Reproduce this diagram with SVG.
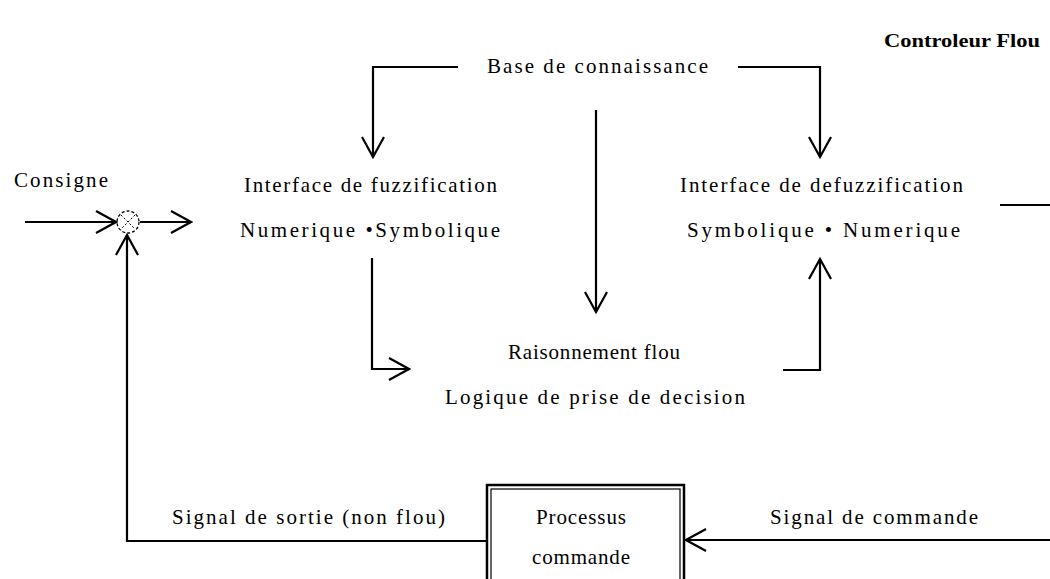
<svg xmlns="http://www.w3.org/2000/svg" width="1050" height="579" viewBox="0 0 1050 579">
  <style>
    .t { font-family: "Liberation Serif", "Times New Roman", serif; font-size: 21px; fill: #000; }
    .title { font-family: "Liberation Serif", "Times New Roman", serif; font-size: 19px; font-weight: bold; fill: #000; }
    .ln { fill: none; stroke: #000; stroke-width: 2.2; }
  </style>
  <defs>
    <!-- open V arrowhead -->
    <marker id="arr" viewBox="0 0 24 26" refX="22" refY="13" markerWidth="24" markerHeight="26" markerUnits="userSpaceOnUse" orient="auto">
      <path d="M2,2 L22,13 L2,24" fill="none" stroke="#000" stroke-width="2.2"/>
    </marker>
  </defs>
  <rect width="1050" height="579" fill="#fff"/>

  <g id="title">
    <text class="title" x="884" y="47" textLength="156" lengthAdjust="spacingAndGlyphs">Controleur Flou</text>
  </g>

  <g id="base">
    <text class="t" x="487" y="73" textLength="221" lengthAdjust="spacing">Base de connaissance</text>
  </g>

  <g id="consigne">
    <text class="t" x="14" y="187" textLength="94" lengthAdjust="spacing">Consigne</text>
  </g>

  <g id="comparateur">
    <circle cx="128" cy="222" r="11" fill="none" stroke="#000" stroke-width="1.3" stroke-dasharray="3 2"/>
    <path d="M121,215 L135,229 M135,215 L121,229" stroke="#000" stroke-width="1" stroke-dasharray="2 2"/>
  </g>

  <g id="fuzzification">
    <text class="t" x="244" y="192" textLength="253" lengthAdjust="spacing">Interface de fuzzification</text>
    <text class="t" x="240" y="237" textLength="260" lengthAdjust="spacing">Numerique  •Symbolique</text>
  </g>

  <g id="defuzzification">
    <text class="t" x="680" y="192" textLength="283" lengthAdjust="spacing">Interface de defuzzification</text>
    <text class="t" x="687" y="237" textLength="273" lengthAdjust="spacing">Symbolique   • Numerique</text>
  </g>

  <g id="raisonnement">
    <text class="t" x="508" y="359" textLength="172" lengthAdjust="spacing">Raisonnement flou</text>
    <text class="t" x="445" y="404" textLength="300" lengthAdjust="spacing">Logique de prise de decision</text>
  </g>

  <g id="processus">
    <rect x="487" y="485" width="197" height="110" fill="none" stroke="#000" stroke-width="2.5"/>
    <rect x="491" y="489" width="189" height="110" fill="none" stroke="#000" stroke-width="1.2"/>
    <text class="t" x="536" y="524" textLength="90" lengthAdjust="spacing">Processus</text>
    <text class="t" x="532" y="564" textLength="98" lengthAdjust="spacing">commande</text>
  </g>

  <g id="signaux">
    <text class="t" x="172" y="524" textLength="273" lengthAdjust="spacing">Signal de sortie  (non flou)</text>
    <text class="t" x="770" y="524" textLength="208" lengthAdjust="spacing">Signal de commande</text>
  </g>

  <g id="connectors">
    <!-- base de connaissance vers les interfaces -->
    <path class="ln" d="M458,67 H373 V157" marker-end="url(#arr)"/>
    <path class="ln" d="M738,67 H820 V157" marker-end="url(#arr)"/>
    <path class="ln" d="M596,110 V312" marker-end="url(#arr)"/>
    <!-- fuzzification vers raisonnement -->
    <path class="ln" d="M372,258 V369 H409" marker-end="url(#arr)"/>
    <!-- raisonnement vers defuzzification -->
    <path class="ln" d="M783,370 H820 V259" marker-end="url(#arr)"/>
    <!-- sortie du controleur -->
    <path class="ln" d="M1000,205 H1050"/>
    <!-- consigne -->
    <path class="ln" d="M25,222 H116" marker-end="url(#arr)"/>
    <path class="ln" d="M140,222 H191" marker-end="url(#arr)"/>
    <!-- retour -->
    <path class="ln" d="M487,541 H127 V235" marker-end="url(#arr)"/>
    <!-- commande vers processus -->
    <path class="ln" d="M1050,540 H686" marker-end="url(#arr)"/>
  </g>
</svg>
